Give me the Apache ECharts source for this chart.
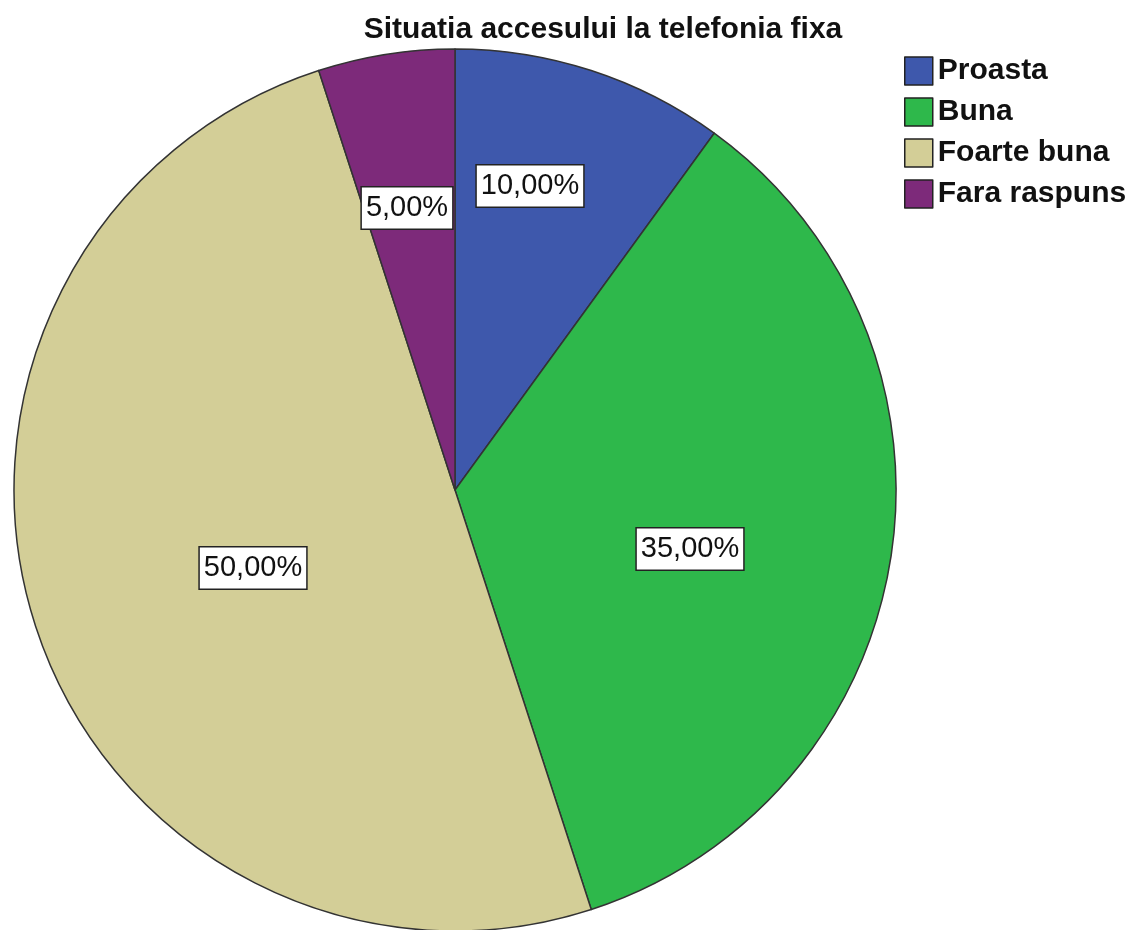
<!DOCTYPE html>
<html>
<head>
<meta charset="utf-8">
<script src="https://cdn.jsdelivr.net/npm/echarts@6/dist/echarts.min.js"></script>
<style>html,body{margin:0;padding:0;background:#fff}#c{width:1133px;height:930px}</style>
</head>
<body>
<div id="c"></div>
<script>
const categories = ['Proasta', 'Buna', 'Foarte buna', 'Fara raspuns'];
const percentages = [10, 35, 50, 5];
const colors = ['#3E58AC', '#2EB84B', '#D3CE97', '#7D2A7A'];
// label offsets from pie centre (styling only)
const labelOffsets = [[75, -304], [235, 59], [-202, 78], [-48, -282]];
const center = [455, 490];

const chart = echarts.init(document.getElementById('c'));
chart.setOption({
  animation: false,
  title: {
    text: 'Situatia accesului la telefonia fixa',
    left: 598, top: 10, textAlign: 'center',
    textStyle: { fontFamily: 'Liberation Sans', fontSize: 30, fontWeight: 'bold', color: '#111' }
  },
  legend: {
    orient: 'vertical', left: 904, top: 56, padding: 0,
    itemWidth: 28, itemHeight: 28, itemGap: 11,
    icon: 'rect',
    itemStyle: { borderColor: '#222', borderWidth: 1.5 },
    textStyle: { fontFamily: 'Liberation Sans', fontSize: 30, fontWeight: 'bold', color: '#111' },
    data: categories
  },
  series: [{
    type: 'pie',
    center: center,
    radius: 441,
    startAngle: 90,
    clockwise: true,
    data: categories.map((n, i) => ({ name: n, value: percentages[i], itemStyle: { color: colors[i] } })),
    itemStyle: { borderColor: '#333', borderWidth: 1.5 },
    label: {
      show: true, position: 'inside',
      formatter: p => p.value.toFixed(2).replace('.', ',') + '%',
      fontFamily: 'Liberation Sans', fontSize: 29, color: '#111',
      backgroundColor: '#fff', borderColor: '#222', borderWidth: 1.5,
      padding: [7, 4, 5, 4]
    },
    labelLine: { show: false },
    labelLayout: function (p) {
      const o = labelOffsets[p.dataIndex];
      return { x: center[0] + o[0], y: center[1] + o[1], align: 'center', verticalAlign: 'middle' };
    },
    emphasis: { disabled: true }
  }]
});
</script>
</body>
</html>
